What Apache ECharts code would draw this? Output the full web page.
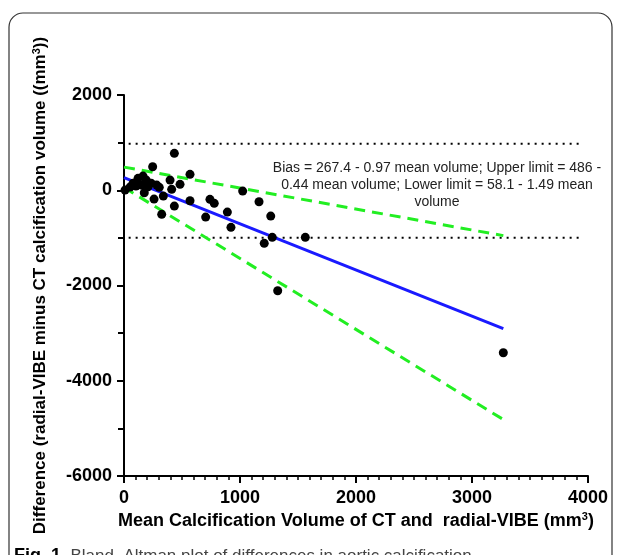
<!DOCTYPE html>
<html>
<head>
<meta charset="utf-8">
<script src="https://cdn.jsdelivr.net/npm/echarts@6/dist/echarts.min.js"></script>
<style>
html,body{margin:0;padding:0;background:#fff;}
#c{width:623px;height:555px;}
</style>
</head>
<body>
<div id="c"></div>
<script>
// Data (mean volume, difference)
const points = [
  [9, 4], [52, 67], [78, 145], [103, 88], [121, 250], [149, 109], [164, 298],
  [175, -53], [192, 214], [207, 74], [235, 145], [247, 494], [259, -185],
  [282, 109], [304, 61], [325, -506], [339, -122], [397, 214], [411, 19],
  [434, 775], [434, -332], [483, 124], [569, 334], [569, -221], [704, -563],
  [741, -191], [778, -275], [891, -458], [922, -779], [1023, -17], [1164, -242],
  [1209, -1115], [1265, -542], [1278, -989], [1325, -2111], [1563, -989],
  [3270, -3413]
];
// Regression lines (endpoints)
const biasLine = [[0, 267], [3270, -2905]];
const upperLine = [[0, 486], [3270, -953]];
const lowerLine = [[0, 58], [3270, -4814]];
// Dotted reference lines
const upperRef = [[40, 975], [3950, 975]];
const lowerRef = [[40, -995], [3950, -995]];
// Axis settings
const xTicks = { min: 0, max: 4000, interval: 1000 };
const yTicks = { min: -6000, max: 2000, interval: 2000 };
const annotation = [
  'Bias = 267.4 - 0.97 mean volume; Upper limit = 486 -',
  '0.44 mean volume; Lower limit = 58.1 - 1.49 mean',
  'volume'
];

const chart = echarts.init(document.getElementById('c'));
const font = 'Liberation Sans, Arial, sans-serif';
chart.setOption({
  animation: false,
  backgroundColor: '#fff',
  grid: { left: 124, right: 35, top: 95, bottom: 79 },
  xAxis: {
    type: 'value', min: xTicks.min, max: xTicks.max, interval: xTicks.interval,
    axisLine: { onZero: false, lineStyle: { color: '#000', width: 2 } },
    axisTick: { length: 7, lineStyle: { color: '#000', width: 2 } },
    minorTick: { show: true, splitNumber: 10, length: 4, lineStyle: { color: '#000', width: 1.5 } },
    splitLine: { show: false },
    axisLabel: { color: '#000', fontSize: 18, fontWeight: 'bold', fontFamily: font, margin: 13, formatter: v => String(v) },
    name: '{a|Mean Calcification Volume of CT and  radial-VIBE (mm}{s|3}{a|)}',
    nameLocation: 'middle', nameGap: 34,
    nameTextStyle: {
      rich: {
        a: { fontSize: 18, fontWeight: 'bold', fontFamily: font, color: '#000' },
        s: { fontSize: 11, fontWeight: 'bold', fontFamily: font, color: '#000', verticalAlign: 'top', padding: [0, 0, 8, 0] }
      }
    }
  },
  yAxis: {
    type: 'value', min: yTicks.min, max: yTicks.max, interval: yTicks.interval,
    axisLine: { onZero: false, lineStyle: { color: '#000', width: 2 } },
    axisTick: { length: 7, lineStyle: { color: '#000', width: 2 } },
    minorTick: { show: true, splitNumber: 2, length: 6, lineStyle: { color: '#000', width: 2 } },
    splitLine: { show: false },
    axisLabel: { color: '#000', fontSize: 18, fontWeight: 'bold', fontFamily: font, margin: 12, formatter: v => String(v) },
    name: '{a|Difference (radial-VIBE minus CT calcification volume ((mm}{s|3}{a|))}',
    nameLocation: 'middle', nameGap: 74,
    nameTextStyle: {
      rich: {
        a: { fontSize: 17, fontWeight: 'bold', fontFamily: font, color: '#000' },
        s: { fontSize: 11, fontWeight: 'bold', fontFamily: font, color: '#000', verticalAlign: 'top', padding: [0, 0, 8, 0] }
      }
    }
  },
  series: [
    { type: 'line', data: upperRef, symbol: 'none', lineStyle: { color: '#000', width: 2, type: [2, 5] } },
    { type: 'line', data: lowerRef, symbol: 'none', lineStyle: { color: '#000', width: 2, type: [2, 5] } },
    { type: 'line', data: upperLine, symbol: 'none', lineStyle: { color: '#22ee22', width: 3, type: [11, 7] } },
    { type: 'line', data: lowerLine, symbol: 'none', lineStyle: { color: '#22ee22', width: 3, type: [11, 7] } },
    { type: 'line', data: biasLine, symbol: 'none', lineStyle: { color: '#1a1aff', width: 3 } },
    { type: 'scatter', data: points, symbol: 'circle', symbolSize: 9, itemStyle: { color: '#000', opacity: 1 }, z: 5 }
  ],
  graphic: [
    { type: 'rect', shape: { x: 9, y: 13, width: 603, height: 620, r: 14 }, style: { fill: 'none', stroke: '#333', lineWidth: 1.2 }, z: -1 },
    { type: 'text', style: { text: annotation.join('\n'), x: 437, y: 160, textAlign: 'center', fontSize: 14, lineHeight: 17, fontFamily: font, fill: '#222' } },
    { type: 'text', style: { text: '{b|Fig. 1}{r|  Bland–Altman plot of differences in aortic calcification}', x: 14, y: 547,
      rich: { b: { fontSize: 18, fontWeight: 'bold', fontFamily: font, fill: '#000' }, r: { fontSize: 17, fontFamily: font, fill: '#444' } } } }
  ]
});
</script>
</body>
</html>
